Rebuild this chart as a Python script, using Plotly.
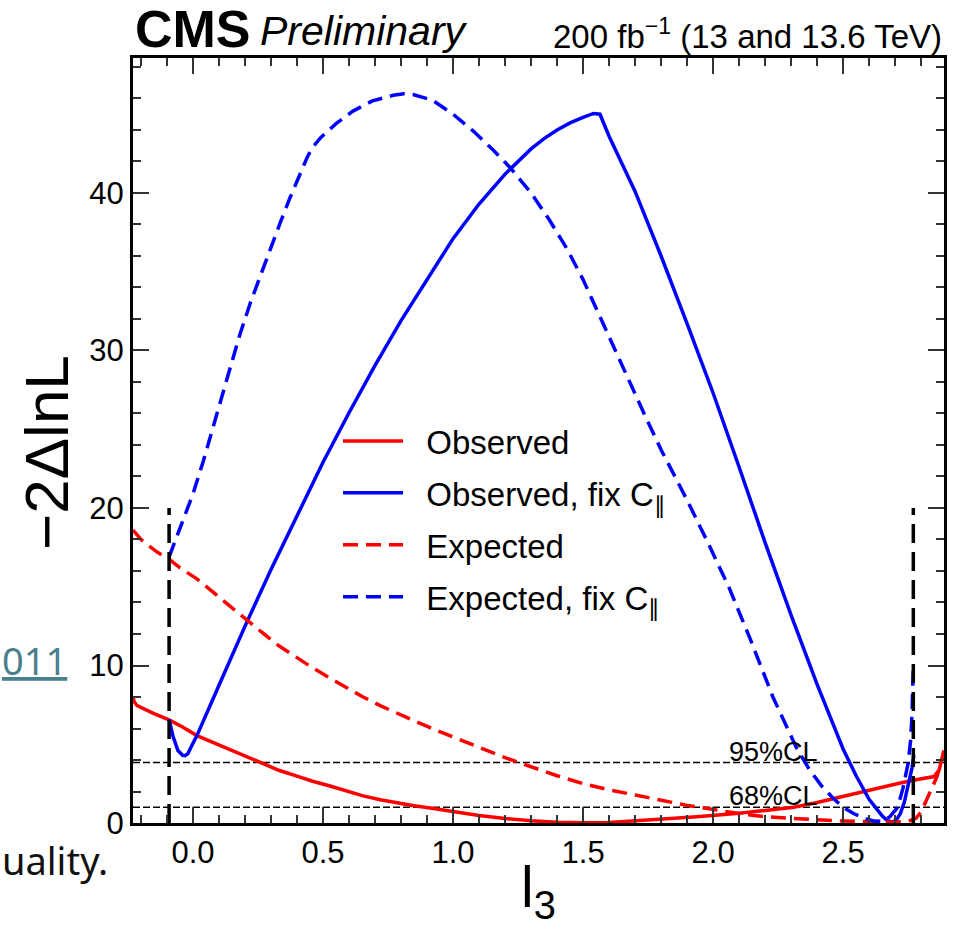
import plotly.graph_objects as go

# ---------------- data ----------------
obs_x = [-0.231, -0.226, -0.215, -0.19, -0.15, -0.092, -0.04, 0.015, 0.08, 0.142, 0.2, 0.269, 0.33, 0.4,
         0.46, 0.527, 0.59, 0.654, 0.72, 0.785, 0.85, 0.912, 1.0, 1.1, 1.2, 1.3, 1.4, 1.5, 1.6, 1.7,
         1.76, 1.85, 1.95, 2.02, 2.1, 2.2, 2.31, 2.4, 2.45, 2.53, 2.6, 2.65, 2.72, 2.78, 2.85, 2.87,
         2.88, 2.888]
obs_y = [8.0, 7.7, 7.45, 7.25, 6.95, 6.55, 6.1, 5.55, 5.1, 4.7, 4.25, 3.78, 3.35, 2.98,
         2.65, 2.35, 2.02, 1.72, 1.48, 1.27, 1.1, 0.95, 0.72, 0.48, 0.29, 0.14, 0.05, 0.01, 0.03, 0.12,
         0.2, 0.3, 0.42, 0.5, 0.62, 0.8, 1.0, 1.3, 1.5, 1.78, 2.05, 2.25, 2.54, 2.75, 2.95, 3.4,
         4.0, 4.6]

obsfix_x = [-0.092, -0.077, -0.058, -0.04, -0.031, -0.02, -0.005, 0.015, 0.1, 0.2, 0.3, 0.4, 0.5,
            0.6, 0.7, 0.8, 0.9, 1.0, 1.1, 1.2, 1.3, 1.35, 1.4, 1.45, 1.5, 1.54, 1.565, 1.6, 1.7, 1.8,
            1.9, 2.0, 2.1, 2.2, 2.3, 2.4, 2.5, 2.55, 2.6, 2.65, 2.67, 2.69, 2.705, 2.72, 2.735, 2.75,
            2.765, 2.772]
obsfix_y = [6.6, 5.5, 4.6, 4.3, 4.28, 4.4, 4.9, 5.55, 8.75, 12.5, 16.1, 19.55, 22.9,
            26.05, 29.05, 31.9, 34.55, 37.1, 39.3, 41.2, 42.8, 43.45, 44.0, 44.45, 44.8, 45.05, 45.0, 43.6,
            40.1, 36.0, 31.7, 27.3, 22.6, 17.8, 13.2, 8.8, 4.7, 3.0, 1.5, 0.45, 0.15, 0.05, 0.2, 0.6,
            1.3, 2.3, 3.5, 4.3]

exp_x = [-0.231, -0.2, -0.17, -0.138, -0.092, -0.05, 0.015, 0.08, 0.142, 0.2, 0.269, 0.33, 0.4, 0.46,
         0.527, 0.59, 0.654, 0.72, 0.785, 0.85, 0.912, 1.0, 1.1, 1.2, 1.3, 1.4, 1.5, 1.6, 1.7, 1.76,
         1.8, 1.9, 2.0, 2.1, 2.2, 2.3, 2.4, 2.5, 2.6, 2.7, 2.75, 2.78, 2.8, 2.82, 2.84, 2.86, 2.875,
         2.888]
exp_y = [18.6, 18.0, 17.6, 17.2, 16.75, 16.2, 15.5, 14.6, 13.75, 12.95, 12.05, 11.25, 10.5, 9.85,
         9.2, 8.6, 8.0, 7.45, 6.95, 6.5, 6.05, 5.45, 4.8, 4.15, 3.55, 3.0, 2.5, 2.1, 1.78, 1.6,
         1.45, 1.12, 0.86, 0.6, 0.4, 0.28, 0.2, 0.13, 0.07, 0.05, 0.1, 0.3, 0.7, 1.4, 2.1, 2.9, 3.7,
         4.6]

expfix_x = [-0.092, -0.06, -0.03, 0.0, 0.04, 0.08, 0.115, 0.15, 0.18, 0.22, 0.258, 0.3, 0.335, 0.373,
            0.41, 0.44, 0.46, 0.49, 0.55, 0.615, 0.69, 0.77, 0.81, 0.846, 0.92, 1.0, 1.08, 1.15, 1.22,
            1.3, 1.37, 1.44, 1.5, 1.56, 1.62, 1.68, 1.74, 1.8, 1.9, 1.98, 2.06, 2.14, 2.23, 2.32,
            2.37, 2.42, 2.46, 2.5, 2.54, 2.58, 2.62, 2.65, 2.68, 2.71, 2.73, 2.75, 2.76, 2.765, 2.77]
expfix_y = [16.9, 18.3, 19.6, 20.9, 23.0, 25.2, 27.3, 29.3, 31.0, 33.0, 34.7, 36.6, 38.1, 39.7,
            41.2, 42.3, 42.9, 43.5, 44.4, 45.2, 45.85, 46.2, 46.3, 46.25, 45.9, 45.0, 43.9, 42.8, 41.6,
            40.0, 38.3, 36.4, 34.5, 32.3, 30.1, 27.9, 25.8, 23.7, 20.5, 17.8, 15.0, 11.8, 8.0, 4.8,
            3.4, 2.3, 1.6, 1.0, 0.6, 0.3, 0.12, 0.1, 0.4, 1.0, 2.2, 3.8, 5.3, 7.0, 10.0]

bound_x = [-0.092, 2.77]      # vertical dashed bounds
bound_top = 20.0
cl_levels = [3.84, 1.0]
cl_labels = ["95%CL", "68%CL"]

x_range = [-0.2308, 2.888]
y_range = [0, 48.57]
x_ticks = [0.0, 0.5, 1.0, 1.5, 2.0, 2.5]
y_ticks = [0, 10, 20, 30, 40]

NB = "\u00a0\u00a0"
series = [
    (NB + "Observed", obs_x, obs_y, "#ff0000", "solid"),
    (NB + "Observed, fix C<sub>∥</sub>", obsfix_x, obsfix_y, "#0000ff", "solid"),
    (NB + "Expected", exp_x, exp_y, "#ff0000", "15px,8px"),
    (NB + "Expected, fix C<sub>∥</sub>", expfix_x, expfix_y, "#0000ff", "15px,8px"),
]

W, H = 969, 926
L, R, T, B = 133, 25, 58, 103
FONT = "Liberation Sans, Arial, Helvetica, sans-serif"

def px2paper_x(px):
    return (px - L) / (W - L - R)

def px2paper_y(py):
    return (H - B - py) / (H - T - B)

fig = go.Figure()

# CL horizontal lines
for lvl in cl_levels:
    fig.add_trace(go.Scatter(x=x_range, y=[lvl, lvl], mode="lines",
                             line=dict(color="black", width=1.5, dash="7px,3px"),
                             showlegend=False, hoverinfo="skip"))

for i, (name, xs, ys, col, dash) in enumerate(series):
    fig.add_trace(go.Scatter(x=xs, y=ys, mode="lines", name=name, legendgroup=f"g{i}",
                             line=dict(color=col, width=3.5, dash=dash)))

# vertical bounds
for bx in bound_x:
    fig.add_trace(go.Scatter(x=[bx, bx], y=[0, bound_top], mode="lines",
                             line=dict(color="black", width=3.5, dash="19px,9px"),
                             showlegend=False, hoverinfo="skip"))

axis_common = dict(showline=True, linecolor="black", linewidth=3, mirror="ticks",
                   ticks="inside", ticklen=16, tickwidth=1.5, tickcolor="#333",
                   showgrid=False, zeroline=False,
                   tickfont=dict(family=FONT, size=31, color="black"))

fig.update_xaxes(range=x_range, tickvals=x_ticks, ticktext=[f"{v:.1f}" for v in x_ticks],
                 minor=dict(dtick=0.1, tick0=0, ticklen=8, tickwidth=1.5, tickcolor="#333", ticks="inside"),
                 **axis_common)
fig.update_yaxes(range=y_range, tickvals=y_ticks, ticktext=[str(v) for v in y_ticks],
                 minor=dict(dtick=2, tick0=0, ticklen=8, tickwidth=1.5, tickcolor="#333", ticks="inside"),
                 **axis_common)

ann = []
# CL labels
for lvl, lab in zip(cl_levels, cl_labels):
    ann.append(dict(x=2.054, y=lvl, xref="x", yref="y", text=lab, showarrow=False,
                    xanchor="left", yanchor="bottom", yshift=-6,
                    font=dict(family=FONT, size=27, color="black")))
# header
ann.append(dict(x=px2paper_x(133), y=px2paper_y(29.5), xref="paper", yref="paper", text="<b>CMS</b>",
                showarrow=False, xanchor="left", yanchor="middle",
                font=dict(family=FONT, size=52, color="black")))
ann.append(dict(x=px2paper_x(258), y=px2paper_y(31), xref="paper", yref="paper", text="<i>Preliminary</i>",
                showarrow=False, xanchor="left", yanchor="middle",
                font=dict(family=FONT, size=41, color="black")))
ann.append(dict(x=px2paper_x(944), y=px2paper_y(34), xref="paper", yref="paper",
                text="200 fb<sup>−1</sup> (13 and 13.6 TeV)",
                showarrow=False, xanchor="right", yanchor="middle",
                font=dict(family=FONT, size=33, color="black")))
# axis titles
ann.append(dict(x=px2paper_x(47), y=px2paper_y(453), xref="paper", yref="paper", text="−2ΔlnL",
                showarrow=False, xanchor="center", yanchor="middle", textangle=-90,
                font=dict(family=FONT, size=62, color="black")))
ann.append(dict(x=px2paper_x(538), y=px2paper_y(891), xref="paper", yref="paper", text="l<sub>3</sub>",
                showarrow=False, xanchor="center", yanchor="middle",
                font=dict(family=FONT, size=57, color="black")))
# background page fragments visible in the screenshot
ann.append(dict(x=px2paper_x(0), y=px2paper_y(660), xref="paper", yref="paper",
                text="<u>011</u>", showarrow=False, xanchor="left", yanchor="middle",
                font=dict(family="Noto Sans, sans-serif", size=38, color="#4a7f8e")))
ann.append(dict(x=px2paper_x(0), y=px2paper_y(860), xref="paper", yref="paper",
                text="uality.", showarrow=False, xanchor="left", yanchor="middle",
                font=dict(family="Noto Sans, sans-serif", size=38, color="#111")))

fig.update_layout(
    width=W, height=H, margin=dict(l=L, r=R, t=T, b=B),
    plot_bgcolor="white", paper_bgcolor="white",
    font=dict(family=FONT, color="black"),
    showlegend=True,
    legend=dict(x=px2paper_x(338), y=px2paper_y(413), xanchor="left", yanchor="top",
                bgcolor="rgba(0,0,0,0)", font=dict(family=FONT, size=33, color="black"),
                tracegroupgap=6, itemwidth=60),
    annotations=ann,
)

fig.write_html("out.html")
